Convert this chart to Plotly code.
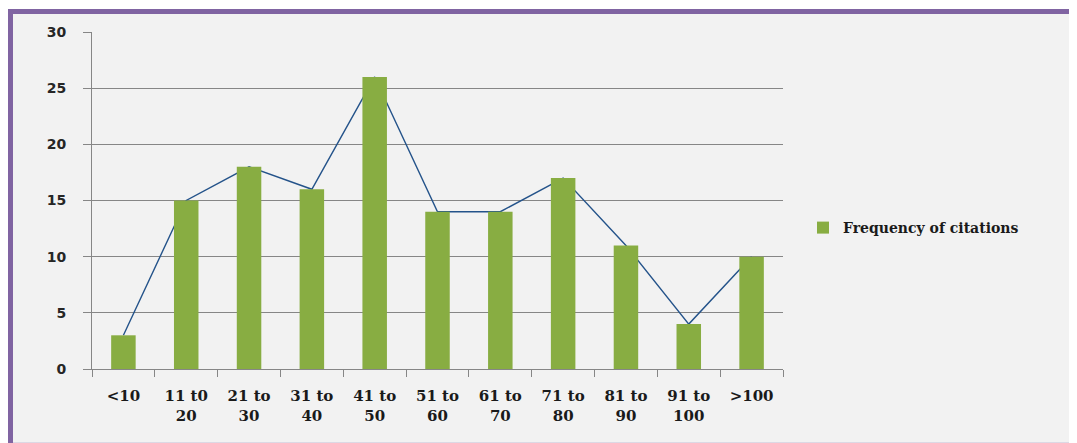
import plotly.graph_objects as go

categories = ["<10", "11 t0<br>20", "21 to<br>30", "31 to<br>40", "41 to<br>50",
              "51 to<br>60", "61 to<br>70", "71 to<br>80", "81 to<br>90",
              "91 to<br>100", ">100"]
frequency = [3, 15, 18, 16, 26, 14, 14, 17, 11, 4, 10]
y_ticks = [0, 5, 10, 15, 20, 25, 30]

# page body has an 8px margin, so the figure is drawn 8px in from the window edge
OFF = 8
W, H = 1077 - OFF, 443 - OFF
L, R, T, B = 92 - OFF, 1077 - 783, 32 - OFF, 443 - 369
pw, ph = W - L - R, H - T - B

def px_x(p):  # window pixel -> paper x
    return (p - OFF - L) / pw

def px_y(p):  # window pixel -> paper y
    return (H - B - (p - OFF)) / ph

fig = go.Figure()

# line behind bars (base axes)
fig.add_trace(go.Scatter(
    x=categories, y=frequency, mode="lines",
    line=dict(color="#24538a", width=1.4),
    showlegend=False, hoverinfo="skip", xaxis="x", yaxis="y",
))
# bars on an overlaying axis so they cover the line
fig.add_trace(go.Bar(
    x=categories, y=frequency, name="Frequency of citations",
    marker=dict(color="#88ad42", line=dict(width=0)),
    width=0.39, xaxis="x", yaxis="y2",
))

fig.update_layout(
    width=W, height=H,
    margin=dict(l=L, r=R, t=T, b=B),
    paper_bgcolor="white",
    plot_bgcolor="white",
    xaxis=dict(
        type="category",
        showline=True, linecolor="#868686", linewidth=1,
        ticks="outside", ticklen=7, tickcolor="#868686", tickson="boundaries",
        showgrid=False,
        tickfont=dict(family="DejaVu Serif", size=15, color="#1a1a1a", weight="bold"),
        ticklabelstandoff=13,
    ),
    yaxis=dict(
        range=[0, 30], tickvals=y_ticks,
        showline=True, linecolor="#868686", linewidth=1,
        ticks="outside", ticklen=8, tickcolor="#868686",
        showgrid=True, gridcolor="#868686", gridwidth=1,
        zeroline=False,
        tickfont=dict(family="DejaVu Sans", size=14, color="#262626", weight="bold"),
        ticklabelstandoff=14,
    ),
    yaxis2=dict(
        range=[0, 30], overlaying="y", showgrid=False, showticklabels=False,
        zeroline=False, showline=False,
    ),
    legend=dict(
        x=px_x(803), y=px_y(228), xanchor="left", yanchor="middle",
        bgcolor="rgba(0,0,0,0)",
        font=dict(family="DejaVu Serif", size=14, color="#1a1a1a", weight="bold"),
        itemwidth=30,
    ),
    showlegend=True,
    shapes=[
        dict(
            type="rect", xref="paper", yref="paper", layer="below",
            x0=px_x(10.5), x1=px_x(1100), y0=px_y(470), y1=px_y(11.5),
            fillcolor="#f2f2f2", line=dict(color="#8064a2", width=5),
        ),
        dict(
            type="line", xref="paper", yref="paper", layer="below",
            x0=px_x(13), x1=px_x(1100), y0=px_y(442.5), y1=px_y(442.5),
            line=dict(color="#dcd8e4", width=1),
        ),
    ],
)

fig.write_html("out.html")
